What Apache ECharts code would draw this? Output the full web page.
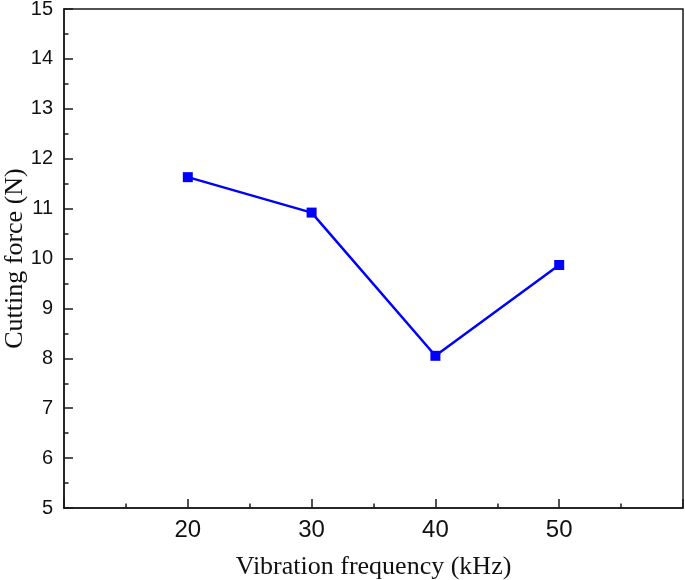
<!DOCTYPE html>
<html>
<head>
<meta charset="utf-8">
<script src="https://cdn.jsdelivr.net/npm/echarts@6/dist/echarts.min.js"></script>
<style>html,body{margin:0;padding:0;background:#fff;}#chart{width:685px;height:580px;}</style>
</head>
<body>
<div id="chart"></div>
<script>
const frequency = [20, 30, 40, 50];
const cuttingForce = [11.63, 10.92, 8.05, 9.87];
const xTitle = 'Vibration frequency (kHz)';
const yTitle = 'Cutting force (N)';

const chart = echarts.init(document.getElementById('chart'), null, {renderer: 'canvas'});
const axisCol = '#1a1a1a';
chart.setOption({
  animation: false,
  backgroundColor: '#fff',
  grid: {left: 64, right: 2, top: 9, bottom: 72, show: true, borderColor: axisCol, borderWidth: 1.5, backgroundColor: 'transparent', containLabel: false, outerBoundsMode: 'none'},
  xAxis: {
    type: 'value', min: 10, max: 60, interval: 10,
    name: xTitle, nameLocation: 'middle', nameGap: 46, nameMoveOverlap: false,
    nameTextStyle: {fontFamily: 'Liberation Serif', fontSize: 26, color: '#111'},
    axisLine: {show: true, lineStyle: {color: axisCol, width: 1.5}},
    axisTick: {show: true, inside: true, length: 9, lineStyle: {color: axisCol, width: 1.5}},
    minorTick: {show: true, splitNumber: 2, length: 4.5, lineStyle: {color: axisCol, width: 1.5}},
    splitLine: {show: false},
    axisLabel: {fontFamily: 'Liberation Sans', fontSize: 24, color: '#111', margin: 10, showMinLabel: false, showMaxLabel: false,
      formatter: v => (v === 10 || v === 60) ? '' : String(v)}
  },
  yAxis: {
    type: 'value', min: 5, max: 15, interval: 1,
    name: yTitle, nameLocation: 'middle', nameGap: 36, nameMoveOverlap: false,
    nameTextStyle: {fontFamily: 'Liberation Serif', fontSize: 26, color: '#111'},
    axisLine: {show: true, lineStyle: {color: axisCol, width: 1.5}},
    axisTick: {show: true, inside: true, length: 9, lineStyle: {color: axisCol, width: 1.5}},
    minorTick: {show: true, splitNumber: 2, length: 4.5, lineStyle: {color: axisCol, width: 1.5}},
    splitLine: {show: false},
    axisLabel: {fontFamily: 'Liberation Sans', fontSize: 20, color: '#111', margin: 11}
  },
  series: [{
    type: 'line',
    data: frequency.map((f, i) => [f, cuttingForce[i]]),
    symbol: 'rect', symbolSize: 10,
    lineStyle: {color: '#0000ff', width: 2.5},
    itemStyle: {color: '#0000ff'}
  }]
});
</script>
</body>
</html>
